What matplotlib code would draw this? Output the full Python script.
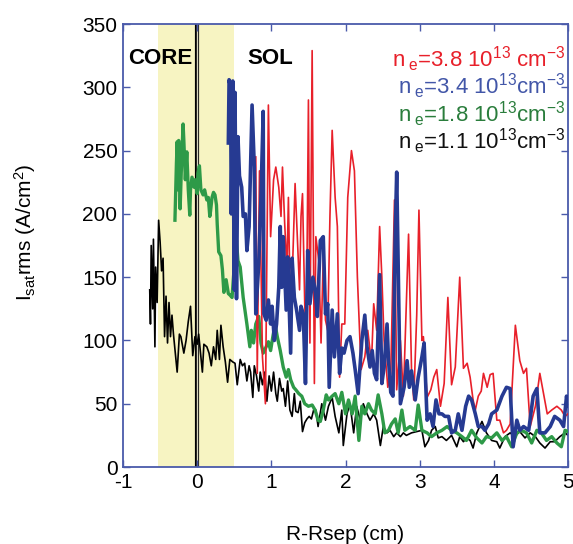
import matplotlib

matplotlib.use("Agg")
import matplotlib.pyplot as plt

plt.rcParams["font.family"] = ["Liberation Sans", "DejaVu Sans"]
plt.rcParams["mathtext.default"] = "regular"
plt.rcParams["axes.unicode_minus"] = False

# probe traces: R-Rsep (cm) vs Isat rms (A/cm^2)
black_x = [-0.64, -0.63, -0.62, -0.60, -0.59, -0.57, -0.56, -0.54, -0.52, -0.50, -0.48, -0.46,
           -0.44, -0.42, -0.40, -0.38, -0.36, -0.34, -0.32, -0.27, -0.24, -0.22, -0.18, -0.15,
           -0.12, -0.09, -0.06, -0.03, 0.00, 0.02, 0.05, 0.07, 0.09, 0.13, 0.16, 0.19, 0.22,
           0.25, 0.27, 0.30, 0.32, 0.35, 0.38, 0.41, 0.44, 0.48, 0.51, 0.54, 0.58, 0.61, 0.64,
           0.67, 0.70, 0.72, 0.75, 0.77, 0.80, 0.83, 0.85, 0.88, 0.91, 0.94, 0.97, 1.00, 1.03,
           1.06, 1.08, 1.11, 1.14, 1.16, 1.19, 1.22, 1.25, 1.28, 1.31, 1.33, 1.36, 1.39, 1.42,
           1.45, 1.48, 1.51, 1.54, 1.57, 1.60, 1.63, 1.68, 1.73, 1.77, 1.82, 1.86, 1.91, 1.95,
           1.97, 2.02, 2.06, 2.11, 2.15, 2.20, 2.24, 2.29, 2.33, 2.38, 2.42, 2.47, 2.51, 2.56,
           2.60, 2.65, 2.69, 2.74, 2.78, 2.82, 2.89, 2.96, 3.03, 3.07, 3.12, 3.16, 3.21, 3.25,
           3.30, 3.36, 3.43, 3.50, 3.54, 3.59, 3.63, 3.68, 3.72, 3.77, 3.84, 3.90, 3.97, 4.04,
           4.08, 4.15, 4.22, 4.28, 4.35, 4.42, 4.49, 4.56, 4.62, 4.69, 4.76, 4.82, 4.89, 4.96,
           5.00]
black_y = [140, 113, 175, 125, 180, 95, 158, 130, 195, 178, 155, 165,
           103, 135, 98, 130, 103, 120, 105, 75, 105, 103, 90, 100,
           115, 127, 88, 103, 97, 105, 87, 75, 97, 95, 90, 80, 95,
           85, 108, 85, 112, 95, 83, 67, 85, 83, 82, 65, 85, 80, 82,
           68, 80, 75, 55, 80, 72, 60, 75, 65, 75, 52, 72, 60, 75,
           58, 52, 70, 60, 62, 48, 68, 45, 40, 58, 44, 43, 52, 28,
           35, 38, 40, 38, 45, 45, 32, 50, 37, 48, 55, 40, 27, 45,
           17, 42, 50, 27, 48, 37, 50, 42, 37, 42, 37, 17, 32, 27,
           29, 24, 27, 24, 27, 25, 27, 28, 29, 16, 21, 29, 32, 23,
           24, 21, 25, 16, 24, 20, 23, 21, 15, 27, 36, 27, 21, 20,
           15, 24, 27, 24, 28, 23, 27, 24, 19, 15, 20, 20, 24, 27,
           25]

green_x = [-0.30, -0.28, -0.27, -0.26, -0.25, -0.23, -0.21, -0.19, -0.18, -0.16, -0.14, -0.12,
           -0.10, -0.09, -0.07, -0.04, -0.03, 0.00, 0.01, 0.03, 0.05, 0.08, 0.10, 0.13, 0.15,
           0.17, 0.18, 0.20, 0.22, 0.24, 0.26, 0.27, 0.29, 0.32, 0.34, 0.36, 0.39, 0.42, 0.44,
           0.47, 0.50, 0.53, 0.55, 0.58, 0.62, 0.67, 0.71, 0.73, 0.76, 0.79, 0.83, 0.86, 0.89,
           0.93, 0.96, 0.99, 1.02, 1.05, 1.08, 1.12, 1.16, 1.20, 1.23, 1.26, 1.30, 1.33, 1.37,
           1.41, 1.45, 1.50, 1.55, 1.59, 1.63, 1.66, 1.70, 1.74, 1.77, 1.82, 1.86, 1.91, 1.95,
           2.00, 2.04, 2.09, 2.13, 2.18, 2.22, 2.26, 2.31, 2.35, 2.40, 2.44, 2.49, 2.53, 2.58,
           2.62, 2.67, 2.71, 2.76, 2.80, 2.87, 2.94, 2.98, 3.03, 3.10, 3.16, 3.23, 3.30, 3.37,
           3.43, 3.50, 3.57, 3.63, 3.70, 3.77, 3.84, 3.90, 3.97, 4.04, 4.11, 4.17, 4.24, 4.31,
           4.37, 4.44, 4.51, 4.58, 4.64, 4.71, 4.78, 4.85, 4.91, 4.96, 5.00]
green_y = [195, 240, 257, 219, 258, 204, 242, 271, 258, 227, 249, 219,
           199, 219, 229, 221, 227, 216, 232, 238, 219, 215, 219, 211, 213,
           198, 202, 213, 217, 215, 207, 192, 170, 167, 156, 138, 148, 137, 136,
           134, 159, 179, 163, 158, 134, 113, 95, 108, 98, 113, 119, 98, 90,
           95, 99, 92, 103, 113, 103, 92, 79, 71, 77, 69, 63, 61, 58,
           56, 50, 48, 49, 45, 37, 36, 45, 57, 53, 56, 58, 50, 59,
           42, 53, 42, 56, 21, 48, 42, 50, 45, 42, 57, 42, 27, 29,
           34, 38, 27, 45, 29, 32, 29, 49, 29, 27, 24, 27, 29, 32,
           29, 27, 24, 21, 29, 23, 19, 24, 23, 27, 21, 24, 16, 27,
           29, 27, 19, 29, 27, 21, 24, 19, 16, 29, 28]

blue_x = [0.42, 0.43, 0.45, 0.46, 0.48, 0.50, 0.51, 0.53, 0.55, 0.57, 0.60, 0.62, 0.65, 0.67,
          0.70, 0.74, 0.77, 0.79, 0.83, 0.86, 0.89, 0.90, 0.93, 0.96, 0.99, 1.01, 1.04, 1.07,
          1.10, 1.12, 1.14, 1.16, 1.20, 1.22, 1.26, 1.28, 1.31, 1.34, 1.38, 1.40, 1.43, 1.46,
          1.49, 1.52, 1.56, 1.59, 1.62, 1.66, 1.70, 1.73, 1.76, 1.78, 1.82, 1.85, 1.89, 1.92,
          1.95, 1.98, 2.02, 2.06, 2.10, 2.13, 2.17, 2.22, 2.26, 2.29, 2.33, 2.36, 2.39, 2.42,
          2.46, 2.49, 2.52, 2.56, 2.58, 2.61, 2.64, 2.67, 2.69, 2.72, 2.74, 2.79, 2.83, 2.86,
          2.89, 2.94, 2.98, 3.03, 3.06, 3.10, 3.14, 3.18, 3.22, 3.26, 3.30, 3.34, 3.39, 3.43,
          3.48, 3.52, 3.57, 3.62, 3.66, 3.70, 3.75, 3.79, 3.84, 3.88, 3.93, 3.97, 4.04, 4.11,
          4.17, 4.22, 4.26, 4.31, 4.35, 4.40, 4.47, 4.53, 4.58, 4.62, 4.69, 4.76, 4.82, 4.89,
          4.94, 4.98, 5.00]
blue_y = [256, 306, 300, 200, 305, 140, 296, 133, 261, 230, 221, 198, 200, 171,
          190, 286, 237, 121, 161, 213, 281, 121, 116, 132, 113, 127, 100, 113,
          142, 190, 142, 182, 124, 166, 90, 165, 134, 124, 108, 127, 121, 66,
          171, 129, 150, 140, 119, 179, 182, 121, 129, 63, 124, 87, 121, 74,
          94, 90, 100, 103, 90, 77, 58, 100, 120, 95, 79, 92, 74, 69,
          152, 66, 79, 113, 84, 59, 56, 184, 233, 120, 50, 63, 84, 63,
          76, 53, 71, 87, 98, 37, 42, 32, 53, 42, 42, 40, 40, 27,
          29, 42, 29, 48, 56, 53, 42, 32, 32, 29, 34, 42, 45, 56,
          63, 62, 16, 37, 29, 32, 29, 56, 62, 27, 27, 32, 40, 37,
          32, 56, 48]

red_x = [0.79, 0.81, 0.84, 0.88, 0.92, 0.96, 0.99, 1.03, 1.06, 1.10, 1.13, 1.15, 1.18, 1.21,
         1.23, 1.26, 1.29, 1.32, 1.35, 1.38, 1.40, 1.42, 1.45, 1.47, 1.50, 1.52, 1.55, 1.58,
         1.60, 1.64, 1.67, 1.70, 1.73, 1.76, 1.79, 1.82, 1.86, 1.89, 1.92, 1.95, 1.99, 2.03,
         2.08, 2.12, 2.16, 2.21, 2.26, 2.30, 2.35, 2.38, 2.42, 2.46, 2.49, 2.52, 2.57, 2.61,
         2.66, 2.69, 2.74, 2.78, 2.82, 2.85, 2.89, 2.92, 2.96, 2.99, 3.03, 3.05, 3.10, 3.15,
         3.19, 3.23, 3.28, 3.33, 3.38, 3.43, 3.48, 3.54, 3.59, 3.64, 3.68, 3.72, 3.75, 3.79,
         3.83, 3.86, 3.91, 3.95, 3.99, 4.04, 4.08, 4.13, 4.17, 4.22, 4.29, 4.35, 4.40, 4.44,
         4.49, 4.56, 4.62, 4.67, 4.72, 4.78, 4.85, 4.91, 4.96, 5.00]
red_y = [245, 74, 234, 87, 50, 286, 182, 227, 237, 221, 198, 237, 192, 156,
         213, 108, 166, 224, 182, 140, 198, 216, 129, 92, 290, 98, 329, 66,
         182, 163, 98, 166, 116, 108, 198, 266, 213, 190, 71, 113, 113, 213,
         250, 234, 150, 77, 87, 108, 82, 129, 108, 190, 150, 100, 63, 74,
         211, 61, 100, 56, 129, 184, 77, 53, 120, 203, 100, 103, 55, 61,
         71, 77, 48, 66, 134, 65, 79, 150, 78, 82, 71, 53, 45, 56,
         60, 74, 63, 73, 74, 37, 37, 27, 29, 34, 112, 84, 74, 78,
         32, 48, 74, 58, 42, 45, 48, 45, 40, 42]

legend_labels = [
    "n$\\,_e$=3.8 10$^{13}$ cm$^{-3}$",
    "n$\\,_e$=3.4 10$^{13}$cm$^{-3}$",
    "n$\\,_e$=1.8 10$^{13}$cm$^{-3}$",
    "n$\\,_e$=1.1 10$^{13}$cm$^{-3}$",
]
legend_colors = ["#e8202a", "#4256a8", "#2a7d3c", "#111111"]

core_band = (-0.53, 0.5)
x_ticks = [-1, 0, 1, 2, 3, 4, 5]
y_ticks = [0, 50, 100, 150, 200, 250, 300, 350]

spine_col = "#4a5aaa"

fig = plt.figure(figsize=(5.73, 5.44), dpi=100)
ax = fig.add_axes([0.2147, 0.1415, 0.7766, 0.8143])

ax.axvspan(*core_band, color="#f7f4c2", lw=0, zorder=0)
ax.axvline(0, color="black", lw=3.0, zorder=1)
ax.axvline(0, color="#d8d6c0", lw=1.0, zorder=1)

ax.plot(black_x, black_y, color="black", lw=1.2, zorder=2)
ax.plot(green_x, green_y, color="#2e9a48", lw=2.4, zorder=3)
ax.plot(red_x, red_y, color="#e8202a", lw=1.2, zorder=4)
ax.plot(blue_x, blue_y, color="#263a92", lw=2.6, zorder=5)

ax.set_xlim(-1, 5)
ax.set_ylim(0, 350)
ax.set_xticks(x_ticks)
ax.set_yticks(y_ticks)
ax.tick_params(direction="in", length=5, width=1, color=spine_col,
               top=True, right=True, labelsize=15, pad=4)
for sp in ax.spines.values():
    sp.set_color(spine_col)
    sp.set_linewidth(1.3)

ax.set_xlabel("R-Rsep (cm)", fontsize=15, labelpad=24)
ax.set_ylabel("I$_{sat}$rms (A/cm$^2$)", fontsize=15)
ax.yaxis.set_label_coords(-0.19, 0.53)

ax.text(-0.93, 323, "CORE", fontsize=16, fontweight="bold", va="center")
ax.text(0.67, 323, "SOL", fontsize=16, fontweight="bold", va="center")

for i, (lab, col) in enumerate(zip(legend_labels, legend_colors)):
    ax.text(4.97, 322 - i * 21.5, lab, color=col, fontsize=16, ha="right", va="center")

fig.savefig("out.png", dpi=100)
